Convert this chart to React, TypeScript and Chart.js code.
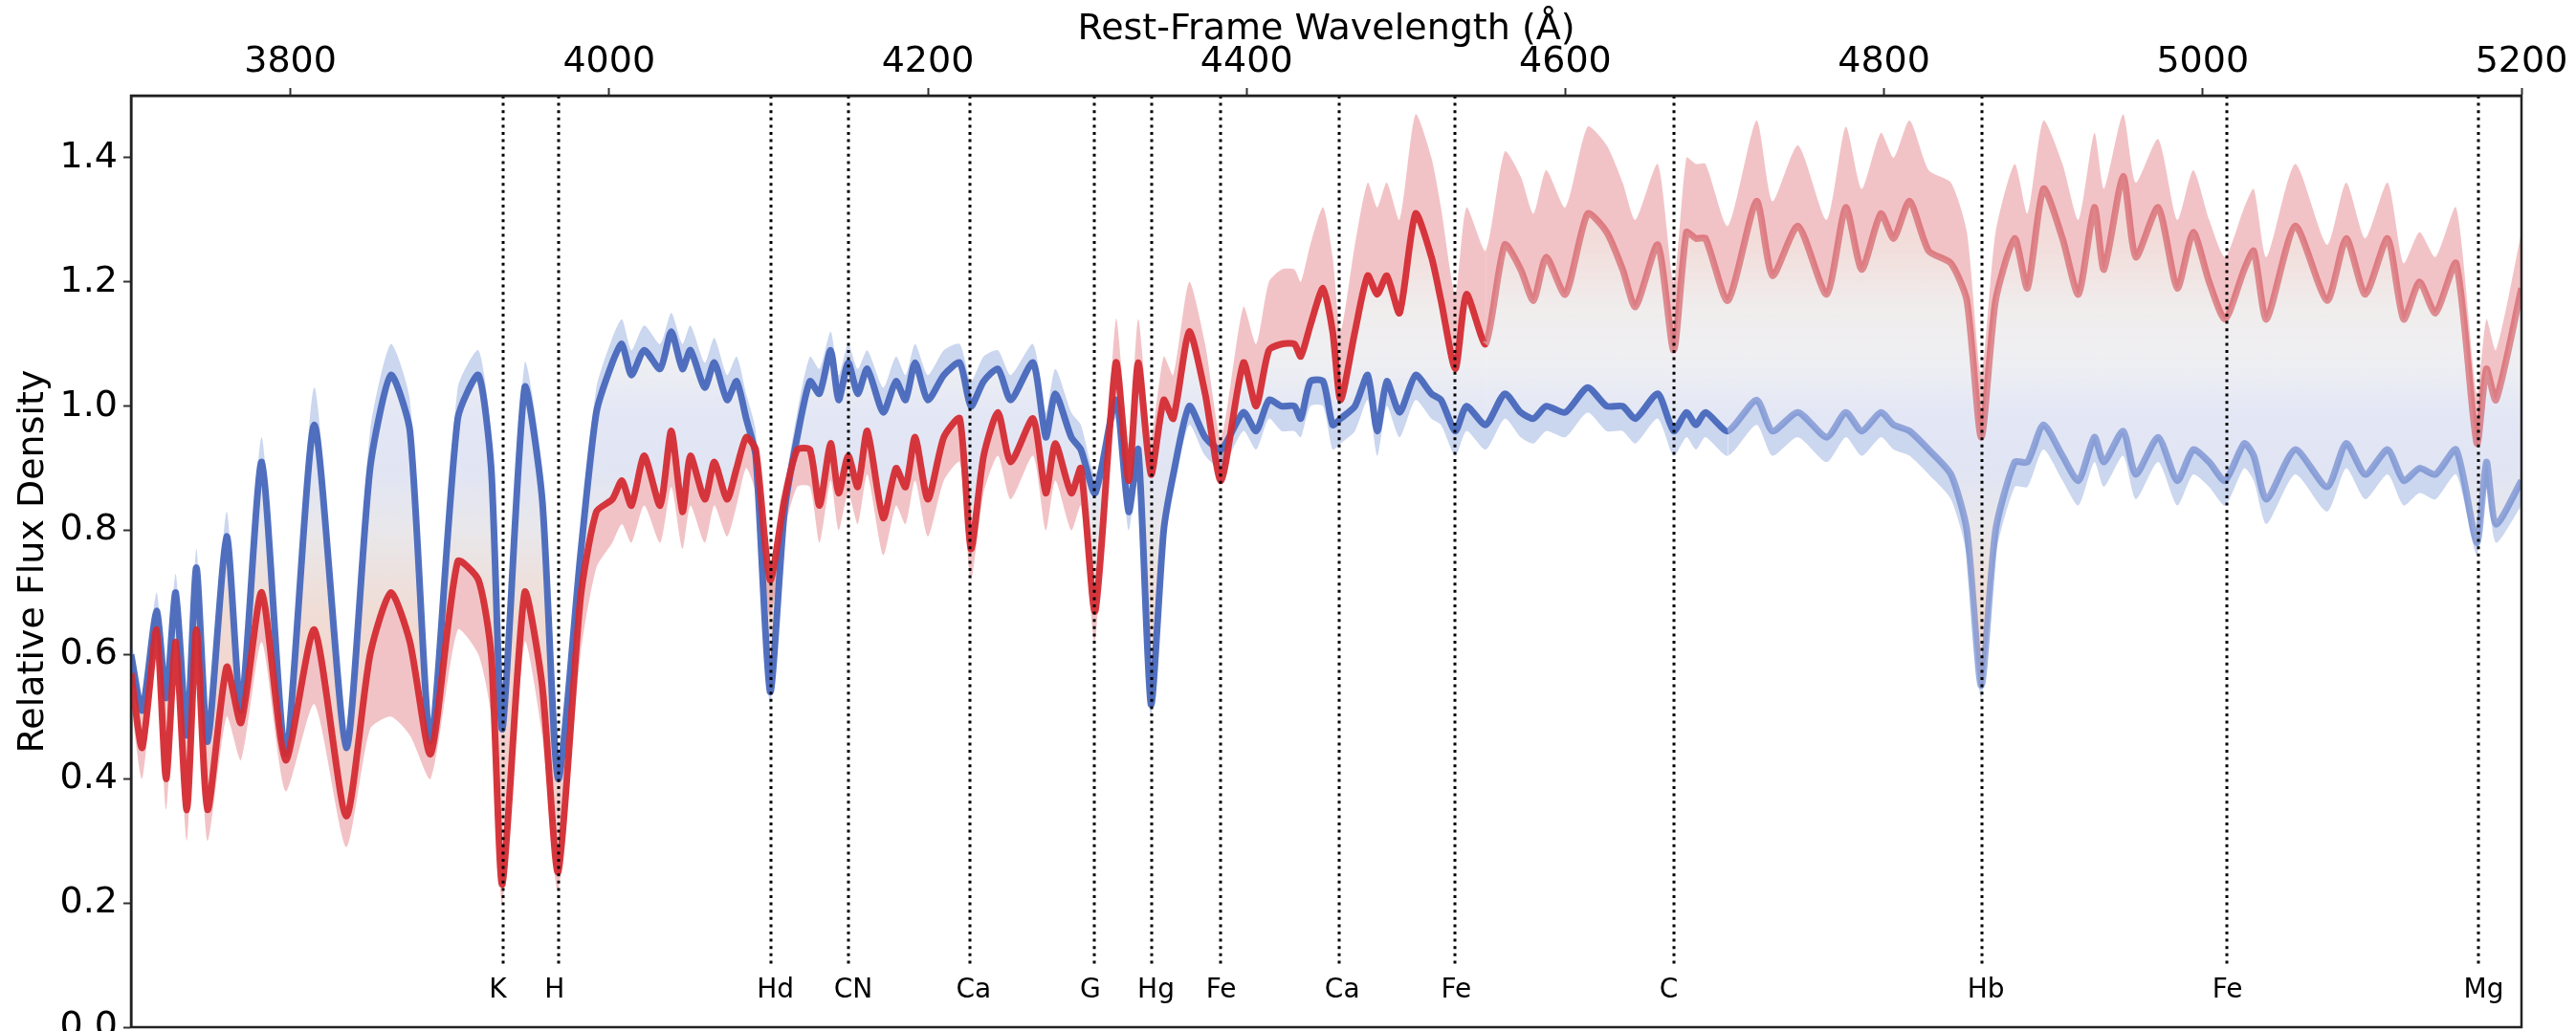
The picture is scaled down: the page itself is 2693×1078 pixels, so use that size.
import React, { useEffect, useRef } from "react";
import { Chart, registerables } from "chart.js";

Chart.register(...registerables);

// Rest-frame wavelength grid (Angstrom)
const wavelength = [
  3700, 3707, 3716, 3722, 3728, 3735, 3741, 3748, 3760, 3769,
  3782, 3797, 3815, 3835, 3850, 3863, 3875, 3888, 3905, 3918,
  3926, 3933, 3947, 3958, 3968, 3982, 3992, 4002, 4008, 4014,
  4022, 4032, 4039, 4046, 4051, 4060, 4066, 4074, 4080, 4086,
  4092, 4101, 4110, 4118, 4126, 4132, 4139, 4144, 4150, 4156,
  4162, 4172, 4180, 4186, 4192, 4200, 4210, 4220, 4227, 4235,
  4244, 4252, 4266, 4274, 4280, 4290, 4296, 4305, 4318, 4326,
  4332, 4340, 4348, 4354, 4364, 4374, 4384, 4398, 4406, 4414,
  4422, 4430, 4434, 4440, 4448, 4454, 4459, 4468, 4476, 4482,
  4488, 4496, 4506, 4516, 4522, 4531, 4538, 4550, 4562, 4572,
  4580, 4588, 4600, 4614, 4626, 4636, 4644, 4658, 4668, 4676,
  4682, 4688, 4702, 4720, 4730, 4746, 4764, 4776, 4786, 4798,
  4806, 4816, 4828, 4842, 4852, 4861, 4870, 4882, 4890, 4900,
  4912, 4922, 4932, 4938, 4950, 4958, 4972, 4984, 4994, 5004,
  5014, 5026, 5032, 5040, 5058, 5078, 5090, 5102, 5116, 5126,
  5136, 5146, 5159, 5172, 5178, 5184, 5200,
];

// Bluest spectra (dense core of the blue bundle)
const blueCore = [
  0.60, 0.51, 0.67, 0.53, 0.70, 0.47, 0.74, 0.46, 0.79, 0.51,
  0.91, 0.44, 0.97, 0.45, 0.90, 1.05, 0.96, 0.46, 0.98, 1.05,
  0.90, 0.48, 1.03, 0.85, 0.40, 0.76, 0.99, 1.07, 1.10, 1.05,
  1.09, 1.06, 1.12, 1.06, 1.09, 1.03, 1.07, 1.01, 1.04, 0.98,
  0.92, 0.54, 0.83, 0.95, 1.04, 1.02, 1.09, 1.01, 1.07, 1.02,
  1.06, 0.99, 1.04, 1.01, 1.07, 1.01, 1.05, 1.07, 1.00, 1.04,
  1.06, 1.01, 1.07, 0.95, 1.02, 0.95, 0.93, 0.86, 1.01, 0.83,
  0.93, 0.52, 0.80, 0.89, 1.00, 0.95, 0.93, 0.99, 0.96, 1.01,
  1.00, 1.00, 0.98, 1.04, 1.04, 0.97, 0.98, 1.00, 1.05, 0.96,
  1.04, 0.99, 1.05, 1.02, 1.01, 0.96, 1.00, 0.97, 1.02, 0.99,
  0.98, 1.00, 0.99, 1.03, 1.00, 1.00, 0.98, 1.02, 0.96, 0.99,
  0.97, 0.99, 0.96, 1.01, 0.96, 0.99, 0.95, 0.99, 0.96, 0.99,
  0.97, 0.96, 0.93, 0.89, 0.80, 0.55, 0.80, 0.91, 0.91, 0.97,
  0.92, 0.88, 0.95, 0.91, 0.96, 0.89, 0.95, 0.88, 0.93, 0.91,
  0.88, 0.94, 0.92, 0.85, 0.93, 0.87, 0.94, 0.89, 0.93, 0.88,
  0.90, 0.89, 0.93, 0.78, 0.91, 0.81, 0.88,
];

// Reddest spectra (dense core of the red bundle)
const redCore = [
  0.57, 0.45, 0.64, 0.40, 0.62, 0.35, 0.64, 0.35, 0.58, 0.49,
  0.70, 0.43, 0.64, 0.34, 0.60, 0.70, 0.62, 0.44, 0.75, 0.72,
  0.60, 0.23, 0.70, 0.55, 0.25, 0.69, 0.83, 0.85, 0.88, 0.84,
  0.92, 0.84, 0.96, 0.83, 0.92, 0.85, 0.91, 0.85, 0.90, 0.95,
  0.93, 0.72, 0.85, 0.93, 0.93, 0.84, 0.94, 0.86, 0.92, 0.87,
  0.96, 0.82, 0.90, 0.87, 0.95, 0.85, 0.95, 0.98, 0.77, 0.92,
  0.99, 0.91, 0.98, 0.86, 0.94, 0.86, 0.90, 0.67, 1.07, 0.88,
  1.07, 0.89, 1.01, 0.98, 1.12, 1.02, 0.88, 1.07, 1.00, 1.09,
  1.10, 1.10, 1.08, 1.13, 1.19, 1.12, 1.01, 1.12, 1.21, 1.18,
  1.21, 1.15, 1.31, 1.24, 1.17, 1.06, 1.18, 1.10, 1.26, 1.22,
  1.17, 1.24, 1.18, 1.31, 1.28, 1.22, 1.16, 1.26, 1.09, 1.28,
  1.27, 1.27, 1.17, 1.33, 1.21, 1.29, 1.18, 1.32, 1.22, 1.31,
  1.27, 1.33, 1.25, 1.23, 1.17, 0.95, 1.17, 1.27, 1.19, 1.35,
  1.27, 1.18, 1.32, 1.22, 1.37, 1.24, 1.32, 1.19, 1.28, 1.20,
  1.14, 1.22, 1.25, 1.14, 1.29, 1.17, 1.27, 1.18, 1.27, 1.14,
  1.20, 1.15, 1.23, 0.94, 1.06, 1.01, 1.19,
];

// Outer edge of the blue bundle's scatter
const blueSpread = [
  0.63, 0.53, 0.70, 0.55, 0.73, 0.49, 0.77, 0.48, 0.83, 0.53,
  0.95, 0.46, 1.03, 0.47, 0.96, 1.10, 1.01, 0.48, 1.03, 1.09,
  0.95, 0.50, 1.07, 0.90, 0.42, 0.80, 1.03, 1.11, 1.14, 1.09,
  1.13, 1.10, 1.15, 1.10, 1.13, 1.07, 1.11, 1.05, 1.08, 1.02,
  0.96, 0.52, 0.86, 0.99, 1.08, 1.06, 1.12, 1.05, 1.10, 1.06,
  1.09, 1.03, 1.08, 1.05, 1.10, 1.05, 1.09, 1.10, 1.04, 1.08,
  1.09, 1.05, 1.10, 0.99, 1.06, 0.99, 0.97, 0.89, 0.98, 0.80,
  0.90, 0.50, 0.77, 0.86, 0.97, 0.92, 0.90, 0.96, 0.93, 0.98,
  0.96, 0.96, 0.95, 1.00, 1.00, 0.93, 0.94, 0.96, 1.01, 0.92,
  1.00, 0.95, 1.01, 0.98, 0.97, 0.92, 0.96, 0.93, 0.98, 0.95,
  0.94, 0.96, 0.95, 0.99, 0.96, 0.96, 0.94, 0.98, 0.92, 0.95,
  0.93, 0.95, 0.92, 0.97, 0.92, 0.95, 0.91, 0.95, 0.92, 0.95,
  0.93, 0.92, 0.89, 0.85, 0.76, 0.53, 0.76, 0.87, 0.87, 0.93,
  0.88, 0.84, 0.91, 0.87, 0.92, 0.85, 0.91, 0.84, 0.89, 0.87,
  0.84, 0.90, 0.88, 0.81, 0.89, 0.83, 0.90, 0.85, 0.89, 0.84,
  0.86, 0.85, 0.89, 0.76, 0.87, 0.78, 0.84,
];

// Outer edge of the red bundle's scatter
const redSpread = [
  0.52, 0.40, 0.60, 0.35, 0.56, 0.30, 0.58, 0.30, 0.50, 0.43,
  0.62, 0.38, 0.52, 0.29, 0.48, 0.50, 0.47, 0.40, 0.64, 0.60,
  0.50, 0.20, 0.62, 0.47, 0.22, 0.60, 0.74, 0.78, 0.81, 0.78,
  0.84, 0.78, 0.87, 0.77, 0.84, 0.78, 0.84, 0.79, 0.84, 0.90,
  0.86, 0.66, 0.80, 0.87, 0.87, 0.78, 0.88, 0.80, 0.86, 0.81,
  0.89, 0.76, 0.84, 0.81, 0.88, 0.79, 0.88, 0.91, 0.72, 0.86,
  0.92, 0.85, 0.92, 0.80, 0.88, 0.80, 0.84, 0.62, 1.14, 0.94,
  1.14, 0.95, 1.08, 1.05, 1.20, 1.10, 0.95, 1.16, 1.10, 1.20,
  1.22, 1.22, 1.20, 1.26, 1.32, 1.24, 1.12, 1.26, 1.36, 1.32,
  1.36, 1.30, 1.47, 1.40, 1.32, 1.18, 1.32, 1.25, 1.41, 1.37,
  1.31, 1.38, 1.32, 1.45, 1.42, 1.36, 1.30, 1.39, 1.20, 1.40,
  1.39, 1.39, 1.29, 1.46, 1.33, 1.42, 1.30, 1.45, 1.35, 1.44,
  1.40, 1.46, 1.38, 1.36, 1.28, 1.05, 1.28, 1.39, 1.31, 1.46,
  1.39, 1.30, 1.44, 1.35, 1.47, 1.36, 1.43, 1.30, 1.38, 1.30,
  1.24, 1.32, 1.35, 1.24, 1.39, 1.26, 1.36, 1.27, 1.36, 1.23,
  1.28, 1.24, 1.32, 1.02, 1.14, 1.09, 1.28,
];

// Absorption features marked with dotted lines
const featureWavelengths = [
  3933.7, 3968.5, 4101.7, 4150, 4226.7, 4304.4, 4340.5,
  4383.5, 4458, 4531, 4668, 4861.3, 5015, 5172.7,
];
const featureLabels = [
  "K", "H", "Hd", "CN", "Ca", "G", "Hg",
  "Fe", "Ca", "Fe", "C", "Hb", "Fe", "Mg",
];

const xTicks = [3800, 4000, 4200, 4400, 4600, 4800, 5000, 5200];
const yTicks = [0, 0.2, 0.4, 0.6, 0.8, 1.0, 1.2, 1.4];

const FONT = "'DejaVu Sans', 'Noto Sans', sans-serif";

const toPoints = (ys: number[]) => wavelength.map((x, i) => ({ x, y: ys[i] }));

// Colour of the fan of intermediate spectra, graded by flux level
const fanStops: [number, string][] = [
  [1.42, "rgba(222,120,124,0.34)"],
  [1.26, "rgba(216,156,148,0.34)"],
  [1.16, "rgba(214,204,204,0.36)"],
  [1.07, "rgba(212,213,222,0.38)"],
  [0.99, "rgba(186,196,230,0.40)"],
  [0.90, "rgba(180,190,226,0.40)"],
  [0.80, "rgba(202,198,206,0.42)"],
  [0.66, "rgba(220,172,152,0.42)"],
  [0.45, "rgba(226,140,134,0.42)"],
];

function fanGradient(c: any) {
  const chart = c.chart;
  const area = chart.chartArea;
  if (!area) return "rgba(200,200,205,0.35)";
  const ys = chart.scales.y;
  const y0 = ys.getPixelForValue(1.5);
  const y1 = ys.getPixelForValue(0);
  const g = chart.ctx.createLinearGradient(0, y0, 0, y1);
  fanStops.forEach(([v, col]) => {
    g.addColorStop((1.5 - v) / 1.5, col);
  });
  return g;
}

const featurePlugin = {
  id: "featureLines",
  afterDatasetsDraw(chart: any) {
    const { ctx, chartArea: a, scales } = chart;
    const xs = scales.x;
    const ys = scales.y;
    ctx.save();
    ctx.beginPath();
    ctx.rect(a.left, a.top, a.right - a.left, a.bottom - a.top);
    ctx.clip();
    ctx.strokeStyle = "#000";
    ctx.lineWidth = 3;
    ctx.setLineDash([3, 4.6]);
    const yEnd = ys.getPixelForValue(0.1);
    featureWavelengths.forEach((w) => {
      const px = Math.round(xs.getPixelForValue(w));
      ctx.beginPath();
      ctx.moveTo(px, a.top);
      ctx.lineTo(px, yEnd);
      ctx.stroke();
    });
    ctx.setLineDash([]);
    ctx.fillStyle = "#000";
    ctx.font = `28px ${FONT}`;
    ctx.textAlign = "left";
    ctx.textBaseline = "alphabetic";
    const yLab = ys.getPixelForValue(0.048);
    featureLabels.forEach((t, i) => {
      ctx.fillText(t, xs.getPixelForValue(featureWavelengths[i]) - 15, yLab);
    });
    ctx.restore();

    // plot frame
    ctx.save();
    ctx.strokeStyle = "#222";
    ctx.lineWidth = 2.5;
    ctx.strokeRect(a.left, a.top, a.right - a.left, a.bottom - a.top);
    ctx.restore();
  },
};

export default function App() {
  const canvasRef = useRef<HTMLCanvasElement | null>(null);

  useEffect(() => {
    document.body.style.margin = "0";
    const canvas = canvasRef.current;
    if (!canvas) return;

    const chart = new Chart(canvas, {
      type: "line",
      data: {
        datasets: [
          {
            label: "red",
            data: toPoints(redCore),
            borderWidth: 7,
            borderColor: "rgba(212,44,52,0.95)",
            segment: {
              borderColor: (c: any) =>
                c.p0.parsed.x >= 4545 ? "rgba(208,80,88,0.62)" : "rgba(212,44,52,0.95)",
            },
            pointRadius: 0,
            fill: false,
            order: 0,
          },
          {
            label: "blue",
            data: toPoints(blueCore),
            borderWidth: 7,
            borderColor: "rgba(72,104,188,0.95)",
            segment: {
              borderColor: (c: any) =>
                c.p0.parsed.x >= 4700 ? "rgba(92,122,200,0.6)" : "rgba(72,104,188,0.95)",
            },
            pointRadius: 0,
            fill: false,
            order: 1,
          },
          {
            label: "between",
            data: toPoints(blueCore),
            borderWidth: 0,
            pointRadius: 0,
            backgroundColor: fanGradient,
            fill: { target: 0 },
            order: 5,
          },
          {
            label: "blue scatter",
            data: toPoints(blueSpread),
            borderWidth: 0,
            pointRadius: 0,
            backgroundColor: "rgba(110,140,212,0.36)",
            fill: { target: 1 },
            order: 4,
          },
          {
            label: "red scatter",
            data: toPoints(redSpread),
            borderWidth: 0,
            pointRadius: 0,
            backgroundColor: "rgba(222,104,112,0.4)",
            fill: { target: 0 },
            order: 4,
          },
        ],
      },
      options: {
        animation: false,
        responsive: false,
        devicePixelRatio: 1,
        layout: { padding: { left: 0, right: 57, top: 0, bottom: 4 } },
        plugins: {
          legend: { display: false },
          tooltip: { enabled: false },
        },
        elements: {
          line: { tension: 0.22, borderJoinStyle: "round" },
        },
        scales: {
          x: {
            type: "linear",
            position: "top",
            min: 3700,
            max: 5200,
            afterBuildTicks: (s: any) => {
              s.ticks = xTicks.map((v) => ({ value: v }));
            },
            afterFit: (s: any) => {
              s.height = 100;
              s.paddingLeft = 0;
              s.paddingRight = 0;
            },
            ticks: {
              color: "#000",
              font: { family: FONT, size: 38 },
              padding: 4,
              maxRotation: 0,
              callback: (v: any) => String(v),
            },
            grid: {
              drawOnChartArea: false,
              drawTicks: true,
              tickLength: 8,
              tickWidth: 2,
              tickColor: "#333",
            },
            border: { display: true, color: "#222", width: 2.5 },
            title: {
              display: true,
              text: "Rest-Frame Wavelength (Å)",
              color: "#000",
              font: { family: FONT, size: 38 },
              padding: { top: 8, bottom: 0 },
            },
          },
          y: {
            type: "linear",
            min: 0,
            max: 1.5,
            afterBuildTicks: (s: any) => {
              s.ticks = yTicks.map((v) => ({ value: v }));
            },
            afterFit: (s: any) => {
              s.width = 137;
              s.paddingTop = 0;
              s.paddingBottom = 0;
            },
            ticks: {
              color: "#000",
              font: { family: FONT, size: 38 },
              padding: 6,
              callback: (v: any) => Number(v).toFixed(1),
            },
            grid: {
              drawOnChartArea: false,
              drawTicks: true,
              tickLength: 8,
              tickWidth: 2,
              tickColor: "#333",
            },
            border: { display: true, color: "#222", width: 2.5 },
            title: {
              display: true,
              text: "Relative Flux Density",
              color: "#000",
              font: { family: FONT, size: 38 },
              padding: { top: 12, bottom: 0 },
            },
          },
        },
      },
      plugins: [featurePlugin],
    } as any);

    return () => chart.destroy();
  }, []);

  return (
    <div style={{ width: 2693, height: 1078, background: "#fff" }}>
      <canvas ref={canvasRef} width={2693} height={1078} style={{ display: "block" }} />
    </div>
  );
}
